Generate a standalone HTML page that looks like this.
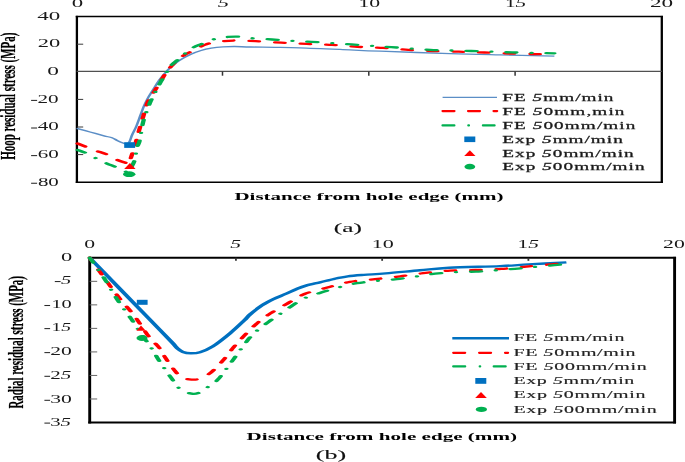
<!DOCTYPE html><html><head><meta charset="utf-8"><style>html,body{margin:0;padding:0;background:#fff;}svg{display:block;filter:blur(0.35px);}text{font-family:"Liberation Serif",serif;}</style></head><body>
<svg width="685" height="462" viewBox="0 0 685 462">
<rect width="685" height="462" fill="#fff"/>
<g fill="none" stroke="#000">
<path d="M75.75,16.60 H662.95" stroke-width="1.5"/>
<path d="M75.75,182.20 H662.95" stroke-width="1.5"/>
<path d="M76.90,15.85 V182.95" stroke-width="2.3"/>
<path d="M661.80,15.90 V182.90" stroke-width="2.3"/>
</g>
<path d="M76.60,71.35 H661.80" stroke="#505050" stroke-width="1.1" fill="none"/>
<path d="M222.50,71.45 V75.70" stroke="#333" stroke-width="1.5" fill="none"/>
<path d="M368.80,71.45 V75.70" stroke="#333" stroke-width="1.5" fill="none"/>
<path d="M515.10,71.45 V75.70" stroke="#333" stroke-width="1.5" fill="none"/>
<path d="M77.00,44.20 H83.20" stroke="#3a3a3a" stroke-width="1" fill="none"/>
<path d="M77.00,99.40 H83.20" stroke="#3a3a3a" stroke-width="1" fill="none"/>
<path d="M77.00,127.00 H83.20" stroke="#3a3a3a" stroke-width="1" fill="none"/>
<path d="M77.00,154.60 H83.20" stroke="#3a3a3a" stroke-width="1" fill="none"/>
<g fill="none" stroke="#000">
<path d="M88.25,257.80 H676.05" stroke-width="1.9"/>
<path d="M88.25,422.50 H676.05" stroke-width="1.9"/>
<path d="M89.70,256.85 V423.45" stroke-width="2.9"/>
<path d="M674.60,256.85 V423.45" stroke-width="2.9"/>
</g>
<path d="M235.93,257.80 V260.80" stroke="#333" stroke-width="1.8" fill="none"/>
<path d="M382.15,257.80 V260.80" stroke="#333" stroke-width="1.8" fill="none"/>
<path d="M528.38,257.80 V260.80" stroke="#333" stroke-width="1.8" fill="none"/>
<path d="M89.70,281.33 H97.20" stroke="#666" stroke-width="1" fill="none"/>
<path d="M89.70,304.86 H97.20" stroke="#666" stroke-width="1" fill="none"/>
<path d="M89.70,328.39 H97.20" stroke="#666" stroke-width="1" fill="none"/>
<path d="M89.70,351.91 H97.20" stroke="#666" stroke-width="1" fill="none"/>
<path d="M89.70,375.44 H97.20" stroke="#666" stroke-width="1" fill="none"/>
<path d="M89.70,398.97 H97.20" stroke="#666" stroke-width="1" fill="none"/>
<g transform="scale(1.9200,1)" fill="none">
<path d="M39.90,128.30 C41.06,128.92 44.50,130.75 46.88,132.00 C49.25,133.25 52.26,134.83 54.17,135.80 C56.08,136.77 57.20,137.03 58.33,137.80 C59.47,138.57 59.97,139.50 60.99,140.40 C62.01,141.30 63.54,142.53 64.43,143.20 C65.31,143.87 65.79,144.68 66.30,144.40 C66.81,144.12 67.07,143.15 67.50,141.50 C67.93,139.85 68.32,137.02 68.91,134.50 C69.49,131.98 70.30,129.48 70.99,126.40 C71.68,123.32 72.39,119.25 73.02,116.00 C73.65,112.75 74.18,109.72 74.79,106.90 C75.41,104.08 75.92,101.87 76.72,99.10 C77.52,96.33 78.57,93.40 79.58,90.30 C80.60,87.20 81.60,83.72 82.81,80.50 C84.03,77.28 85.76,73.38 86.88,71.00 C87.99,68.62 88.45,67.93 89.53,66.20 C90.61,64.47 91.68,62.58 93.33,60.60 C94.98,58.62 97.53,55.98 99.43,54.30 C101.33,52.62 102.97,51.52 104.74,50.50 C106.51,49.48 108.15,48.80 110.05,48.20 C111.95,47.60 114.11,47.18 116.15,46.90 C118.18,46.62 119.90,46.48 122.24,46.50 C124.58,46.52 126.71,46.87 130.21,47.00 C133.71,47.13 138.89,47.17 143.23,47.30 C147.57,47.43 150.61,47.45 156.25,47.80 C161.89,48.15 170.14,48.83 177.08,49.40 C184.03,49.97 188.37,50.50 197.92,51.20 C207.47,51.90 223.96,52.98 234.38,53.60 C244.79,54.22 251.35,54.48 260.42,54.90 C269.48,55.32 284.03,55.90 288.75,56.10" stroke="#5b8ec6" stroke-width="1.35" stroke-linejoin="round"/>
<path d="M40.42,143.50 C41.17,144.07 43.39,145.72 44.95,146.90 C46.51,148.08 48.01,149.35 49.79,150.60 C51.57,151.85 53.88,152.95 55.62,154.40 C57.37,155.85 58.59,157.87 60.26,159.30 C61.93,160.73 64.51,162.25 65.62,163.00 C66.74,163.75 66.50,164.97 66.98,163.80 C67.46,162.63 67.94,158.97 68.49,156.00 C69.04,153.03 69.74,149.33 70.26,146.00 C70.78,142.67 71.22,138.83 71.61,136.00 C72.01,133.17 72.14,132.33 72.66,129.00 C73.17,125.67 73.96,120.55 74.69,116.00 C75.42,111.45 76.08,105.82 77.03,101.70 C77.99,97.58 79.32,94.67 80.42,91.30 C81.51,87.93 82.50,84.85 83.59,81.50 C84.69,78.15 85.98,73.87 86.98,71.20 C87.98,68.53 88.72,67.28 89.58,65.50 C90.45,63.72 91.18,62.17 92.19,60.50 C93.19,58.83 94.30,57.10 95.62,55.50 C96.95,53.90 98.70,52.35 100.16,50.90 C101.61,49.45 103.17,47.88 104.38,46.80 C105.58,45.72 106.39,45.07 107.40,44.40 C108.40,43.73 108.96,43.33 110.42,42.80 C111.88,42.27 114.06,41.58 116.15,41.20 C118.23,40.82 120.08,40.50 122.92,40.50 C125.76,40.50 129.25,40.83 133.18,41.20 C137.10,41.57 142.03,42.25 146.46,42.70 C150.89,43.15 155.32,43.53 159.74,43.90 C164.16,44.27 168.56,44.42 172.97,44.90 C177.38,45.38 181.78,46.30 186.20,46.80 C190.62,47.30 195.07,47.40 199.48,47.90 C203.89,48.40 208.31,49.28 212.66,49.80 C217.01,50.32 221.19,50.68 225.57,51.00 C229.96,51.32 234.50,51.45 238.96,51.70 C243.42,51.95 247.86,52.20 252.34,52.50 C256.83,52.80 261.41,53.23 265.89,53.50 C270.36,53.77 275.36,53.95 279.17,54.10 C282.98,54.25 287.15,54.35 288.75,54.40" stroke="#ff0000" stroke-width="2.3" stroke-dasharray="5 8.34" stroke-dashoffset="0.05" stroke-linecap="round"/>
<path d="M40.42,149.90 C41.13,150.42 43.12,151.63 44.69,153.00 C46.25,154.37 48.09,156.47 49.79,158.10 C51.49,159.73 53.15,161.32 54.90,162.80 C56.64,164.28 58.82,165.83 60.26,167.00 C61.70,168.17 62.43,168.92 63.54,169.80 C64.65,170.68 66.10,172.77 66.93,172.30 C67.75,171.83 67.98,168.90 68.49,167.00 C69.00,165.10 69.63,163.08 70.00,160.90 C70.37,158.72 70.49,156.23 70.73,153.90 C70.97,151.57 71.13,149.08 71.46,146.90 C71.79,144.72 72.23,144.65 72.71,140.80 C73.19,136.95 73.77,128.43 74.32,123.80 C74.88,119.17 75.42,116.47 76.04,113.00 C76.67,109.53 77.29,106.40 78.07,103.00 C78.85,99.60 79.77,96.18 80.73,92.60 C81.69,89.02 82.77,85.10 83.85,81.50 C84.94,77.90 86.47,73.50 87.24,71.00 C88.01,68.50 87.60,68.35 88.49,66.50 C89.38,64.65 91.28,61.98 92.55,59.90 C93.82,57.82 94.89,55.92 96.09,54.00 C97.30,52.08 98.29,50.08 99.79,48.40 C101.29,46.72 103.26,45.37 105.10,43.90 C106.94,42.43 108.86,40.70 110.83,39.60 C112.80,38.50 114.74,37.78 116.93,37.30 C119.11,36.82 121.60,36.55 123.96,36.70 C126.32,36.85 128.14,37.73 131.09,38.20 C134.05,38.67 138.19,39.05 141.67,39.50 C145.15,39.95 148.53,40.50 151.98,40.90 C155.43,41.30 158.90,41.55 162.34,41.90 C165.79,42.25 169.18,42.58 172.66,43.00 C176.13,43.42 179.73,43.93 183.18,44.40 C186.62,44.87 189.90,45.35 193.33,45.80 C196.77,46.25 198.67,46.43 203.80,47.10 C208.93,47.77 217.17,49.15 224.11,49.80 C231.06,50.45 238.38,50.57 245.47,51.00 C252.56,51.43 259.45,52.02 266.67,52.40 C273.88,52.78 285.07,53.15 288.75,53.30" stroke="#00b050" stroke-width="2.3" stroke-dasharray="5.35 7.75 0.01 7.75" stroke-dashoffset="0.66" stroke-linecap="round"/>
</g>
<rect x="124.2" y="142.2" width="10.9" height="5.7" fill="#0070c0"/>
<path d="M129.9,162.9 L135.6,168.9 L124.2,168.9 Z" fill="#ff0000"/>
<ellipse cx="129.2" cy="174.2" rx="6.2" ry="2.9" fill="#00b050"/>
<g transform="scale(1.9200,1)" fill="none">
<path d="M46.72,257.80 C49.32,262.93 57.80,279.65 62.34,288.60 C66.88,297.55 70.46,304.60 73.96,311.50 C77.46,318.40 80.69,324.77 83.33,330.00 C85.98,335.23 88.31,339.80 89.84,342.90 C91.38,346.00 91.65,347.10 92.55,348.60 C93.45,350.10 94.14,351.12 95.26,351.90 C96.38,352.68 97.79,353.25 99.27,353.30 C100.76,353.35 102.26,353.33 104.17,352.20 C106.08,351.07 108.12,349.65 110.73,346.50 C113.33,343.35 117.06,337.63 119.79,333.30 C122.53,328.97 125.40,323.63 127.14,320.50 C128.87,317.37 128.68,316.98 130.21,314.50 C131.74,312.02 134.27,308.15 136.30,305.60 C138.33,303.05 140.37,301.10 142.40,299.20 C144.42,297.30 146.41,295.90 148.44,294.20 C150.46,292.50 152.71,290.43 154.53,289.00 C156.35,287.57 157.35,286.72 159.38,285.60 C161.40,284.48 164.18,283.43 166.67,282.30 C169.15,281.17 171.87,279.78 174.27,278.80 C176.68,277.82 178.56,277.05 181.09,276.40 C183.63,275.75 186.18,275.40 189.48,274.90 C192.78,274.40 196.01,274.17 200.89,273.40 C205.76,272.63 213.24,271.23 218.75,270.30 C224.26,269.37 227.01,268.50 233.96,267.80 C240.90,267.10 253.53,266.67 260.42,266.10 C267.30,265.53 269.50,265.02 275.26,264.40 C281.02,263.78 291.71,262.73 295.00,262.40" stroke="#0070c0" stroke-width="2.4" stroke-linejoin="round"/>
<path d="M46.72,257.80 C49.05,263.92 56.86,284.97 60.68,294.50 C64.50,304.03 66.81,307.95 69.64,315.00 C72.46,322.05 75.43,331.45 77.60,336.80 C79.77,342.15 81.24,343.62 82.66,347.10 C84.07,350.58 84.69,353.75 86.09,357.70 C87.50,361.65 89.64,367.50 91.09,370.80 C92.54,374.10 93.35,376.03 94.79,377.50 C96.23,378.97 98.18,379.42 99.74,379.60 C101.30,379.78 102.49,379.77 104.17,378.60 C105.84,377.43 107.79,375.65 109.79,372.60 C111.80,369.55 114.22,364.53 116.20,360.30 C118.18,356.07 119.84,351.28 121.67,347.20 C123.49,343.12 125.16,339.70 127.14,335.80 C129.11,331.90 131.26,327.53 133.54,323.80 C135.82,320.07 138.15,316.77 140.83,313.40 C143.52,310.03 146.68,306.83 149.64,303.60 C152.60,300.37 155.12,296.67 158.59,294.00 C162.07,291.33 166.52,289.63 170.47,287.60 C174.42,285.57 178.14,283.22 182.29,281.80 C186.44,280.38 191.00,280.02 195.36,279.10 C199.73,278.18 204.11,277.33 208.49,276.30 C212.86,275.27 217.29,273.85 221.61,272.90 C225.94,271.95 230.09,271.08 234.43,270.60 C238.77,270.12 243.22,270.28 247.66,270.00 C252.09,269.72 256.63,269.47 261.04,268.90 C265.45,268.33 269.73,267.37 274.11,266.60 C278.50,265.83 284.33,264.83 287.34,264.30 C290.36,263.77 291.38,263.55 292.19,263.40" stroke="#ff0000" stroke-width="2.3" stroke-dasharray="5 8.3" stroke-dashoffset="0.6" stroke-linecap="round"/>
<path d="M46.72,257.80 C47.96,261.17 51.73,270.90 54.17,278.00 C56.61,285.10 58.98,293.53 61.35,300.40 C63.73,307.27 66.42,313.68 68.44,319.20 C70.45,324.72 71.68,328.63 73.44,333.50 C75.19,338.37 77.31,343.65 78.96,348.40 C80.61,353.15 81.69,357.25 83.33,362.00 C84.97,366.75 87.07,372.40 88.80,376.90 C90.54,381.40 91.93,386.22 93.75,389.00 C95.57,391.78 98.00,393.02 99.74,393.60 C101.48,394.18 102.80,393.53 104.17,392.50 C105.54,391.47 106.42,389.55 107.97,387.40 C109.51,385.25 111.23,384.12 113.44,379.60 C115.64,375.08 118.61,366.85 121.20,360.30 C123.78,353.75 126.90,345.15 128.96,340.30 C131.02,335.45 131.72,334.28 133.54,331.20 C135.36,328.12 137.92,324.58 139.90,321.80 C141.88,319.02 143.44,317.10 145.42,314.50 C147.40,311.90 149.59,308.90 151.77,306.20 C153.95,303.50 155.90,300.58 158.49,298.30 C161.08,296.02 164.35,294.30 167.29,292.50 C170.23,290.70 173.05,289.05 176.15,287.50 C179.24,285.95 182.59,284.28 185.89,283.20 C189.18,282.12 192.48,281.67 195.94,281.00 C199.39,280.33 203.19,279.93 206.61,279.20 C210.03,278.47 213.12,277.52 216.46,276.60 C219.80,275.68 223.25,274.45 226.67,273.70 C230.09,272.95 233.45,272.45 236.98,272.10 C240.51,271.75 244.42,271.88 247.86,271.60 C251.31,271.32 254.28,270.87 257.66,270.40 C261.03,269.93 264.68,269.37 268.12,268.80 C271.57,268.23 274.90,267.60 278.33,267.00 C281.76,266.40 286.35,265.60 288.70,265.20 C291.05,264.80 291.82,264.70 292.45,264.60" stroke="#00b050" stroke-width="2.3" stroke-dasharray="5.3 7.74 0.01 7.75" stroke-linecap="round"/>
</g>
<rect x="136.8" y="299.8" width="10.8" height="5" fill="#0070c0"/>
<path d="M141,325.6 L145.8,330.8 L136.4,330.8 Z" fill="#ff0000"/>
<ellipse cx="142" cy="338" rx="5.5" ry="3" fill="#00b050"/>
<path d="M442.6,97.4 H497.0" stroke="#5b8ec6" stroke-width="1.3"/>
<path d="M442.55,111.1 H497.15" stroke="#ff0000" stroke-width="2.3" stroke-dasharray="11.9 13.6" stroke-linecap="round"/>
<path d="M442.55,125.4 H494.55" stroke="#00b050" stroke-width="2.3" stroke-dasharray="11.8 14 0.6 14" stroke-linecap="round"/>
<rect x="464.3" y="136.5" width="11.0" height="5.6" fill="#0070c0"/>
<path d="M469.85,150.3 L475.5,156 L464.2,156 Z" fill="#ff0000"/>
<ellipse cx="469.85" cy="166.7" rx="5.4" ry="2.85" fill="#00b050"/>
<text transform="translate(502.24,100.80) scale(1.850,1)" x="0" y="0" font-size="10.40" textLength="60.13" lengthAdjust="spacing" fill="#1a1a1a" stroke="#1a1a1a" stroke-width="0.25">FE <tspan font-style="italic">5</tspan>mm/min</text>
<text transform="translate(502.24,114.50) scale(1.850,1)" x="0" y="0" font-size="10.40" textLength="66.08" lengthAdjust="spacing" fill="#1a1a1a" stroke="#1a1a1a" stroke-width="0.25">FE <tspan font-style="italic">5</tspan>0mm,min</text>
<text transform="translate(502.24,128.50) scale(1.850,1)" x="0" y="0" font-size="10.40" textLength="71.97" lengthAdjust="spacing" fill="#1a1a1a" stroke="#1a1a1a" stroke-width="0.25">FE <tspan font-style="italic">5</tspan>00mm/min</text>
<text transform="translate(502.24,142.50) scale(1.850,1)" x="0" y="0" font-size="10.40" textLength="65.16" lengthAdjust="spacing" fill="#1a1a1a" stroke="#1a1a1a" stroke-width="0.25">Exp <tspan font-style="italic">5</tspan>mm/min</text>
<text transform="translate(502.24,156.50) scale(1.850,1)" x="0" y="0" font-size="10.40" textLength="71.05" lengthAdjust="spacing" fill="#1a1a1a" stroke="#1a1a1a" stroke-width="0.25">Exp <tspan font-style="italic">5</tspan>0mm/min</text>
<text transform="translate(502.24,170.30) scale(1.850,1)" x="0" y="0" font-size="10.40" textLength="76.94" lengthAdjust="spacing" fill="#1a1a1a" stroke="#1a1a1a" stroke-width="0.25">Exp <tspan font-style="italic">5</tspan>00mm/min</text>
<path d="M452.3,338.3 H509.0" stroke="#0070c0" stroke-width="2.4"/>
<path d="M453.25,352.8 H508.05" stroke="#ff0000" stroke-width="2.3" stroke-dasharray="11.9 14" stroke-linecap="round"/>
<path d="M453.25,366.4 H506.05" stroke="#00b050" stroke-width="2.3" stroke-dasharray="11.9 14.6 0.4 13.6" stroke-linecap="round"/>
<rect x="475.3" y="378.0" width="11.0" height="5.8" fill="#0070c0"/>
<path d="M481,391.9 L486.8,398.1 L475.2,398.1 Z" fill="#ff0000"/>
<ellipse cx="481.4" cy="409.4" rx="5.6" ry="2.7" fill="#00b050"/>
<text transform="translate(513.42,341.10) scale(1.920,1)" x="0" y="0" font-size="10.40" textLength="57.80" lengthAdjust="spacing" fill="#222" stroke="#222" stroke-width="0.15">FE <tspan font-style="italic">5</tspan>mm/min</text>
<text transform="translate(513.42,355.50) scale(1.920,1)" x="0" y="0" font-size="10.40" textLength="63.64" lengthAdjust="spacing" fill="#222" stroke="#222" stroke-width="0.15">FE <tspan font-style="italic">5</tspan>0mm/min</text>
<text transform="translate(513.42,369.80) scale(1.920,1)" x="0" y="0" font-size="10.40" textLength="69.37" lengthAdjust="spacing" fill="#222" stroke="#222" stroke-width="0.15">FE <tspan font-style="italic">5</tspan>00mm/min</text>
<text transform="translate(513.42,384.30) scale(1.920,1)" x="0" y="0" font-size="10.40" textLength="62.96" lengthAdjust="spacing" fill="#222" stroke="#222" stroke-width="0.15">Exp <tspan font-style="italic">5</tspan>mm/min</text>
<text transform="translate(513.42,398.40) scale(1.920,1)" x="0" y="0" font-size="10.40" textLength="68.79" lengthAdjust="spacing" fill="#222" stroke="#222" stroke-width="0.15">Exp <tspan font-style="italic">5</tspan>0mm/min</text>
<text transform="translate(513.42,412.60) scale(1.920,1)" x="0" y="0" font-size="10.40" textLength="74.62" lengthAdjust="spacing" fill="#222" stroke="#222" stroke-width="0.15">Exp <tspan font-style="italic">5</tspan>00mm/min</text>
<text x="71.83" y="6.60" font-size="11.80" textLength="11.44" lengthAdjust="spacingAndGlyphs" text-anchor="start" fill="#1a1a1a">0</text>
<text x="217.79" y="6.60" font-size="11.80" textLength="11.29" lengthAdjust="spacingAndGlyphs" text-anchor="start" fill="#1a1a1a"><tspan font-style="italic">5</tspan></text>
<text x="358.49" y="6.60" font-size="11.80" textLength="21.74" lengthAdjust="spacingAndGlyphs" text-anchor="start" fill="#1a1a1a">10</text>
<text x="504.92" y="6.60" font-size="11.80" textLength="21.42" lengthAdjust="spacingAndGlyphs" text-anchor="start" fill="#1a1a1a">1<tspan font-style="italic">5</tspan></text>
<text x="649.98" y="6.60" font-size="11.80" textLength="23.20" lengthAdjust="spacingAndGlyphs" text-anchor="start" fill="#1a1a1a">20</text>
<text x="37.24" y="19.65" font-size="11.80" textLength="22.93" lengthAdjust="spacingAndGlyphs" text-anchor="start" fill="#1a1a1a">40</text>
<text x="37.71" y="47.15" font-size="11.80" textLength="22.44" lengthAdjust="spacingAndGlyphs" text-anchor="start" fill="#1a1a1a">20</text>
<text x="47.21" y="74.85" font-size="11.80" textLength="11.67" lengthAdjust="spacingAndGlyphs" text-anchor="start" fill="#1a1a1a">0</text>
<text x="37.47" y="102.65" font-size="11.80" textLength="21.13" lengthAdjust="spacingAndGlyphs" text-anchor="start" fill="#1a1a1a">20</text>
<rect x="31.10" y="99.88" width="6.00" height="1.05" fill="#2a2a2a"/>
<text x="37.78" y="130.35" font-size="11.80" textLength="21.02" lengthAdjust="spacingAndGlyphs" text-anchor="start" fill="#1a1a1a">40</text>
<rect x="31.10" y="127.48" width="6.00" height="1.05" fill="#2a2a2a"/>
<text x="37.80" y="157.85" font-size="11.80" textLength="21.00" lengthAdjust="spacingAndGlyphs" text-anchor="start" fill="#1a1a1a">60</text>
<rect x="31.10" y="155.08" width="6.00" height="1.05" fill="#2a2a2a"/>
<text x="37.91" y="185.65" font-size="11.80" textLength="20.89" lengthAdjust="spacingAndGlyphs" text-anchor="start" fill="#1a1a1a">80</text>
<rect x="31.10" y="182.73" width="6.00" height="1.05" fill="#2a2a2a"/>
<text x="84.38" y="247.50" font-size="11.80" textLength="10.85" lengthAdjust="spacingAndGlyphs" text-anchor="start" fill="#1a1a1a">0</text>
<text x="230.25" y="247.50" font-size="11.80" textLength="10.79" lengthAdjust="spacingAndGlyphs" text-anchor="start" fill="#1a1a1a"><tspan font-style="italic">5</tspan></text>
<text x="371.66" y="247.50" font-size="11.80" textLength="22.08" lengthAdjust="spacingAndGlyphs" text-anchor="start" fill="#1a1a1a">10</text>
<text x="517.52" y="247.50" font-size="11.80" textLength="21.42" lengthAdjust="spacingAndGlyphs" text-anchor="start" fill="#1a1a1a">1<tspan font-style="italic">5</tspan></text>
<text x="663.05" y="247.50" font-size="11.80" textLength="21.68" lengthAdjust="spacingAndGlyphs" text-anchor="start" fill="#1a1a1a">20</text>
<text x="60.95" y="260.90" font-size="11.80" textLength="11.20" lengthAdjust="spacingAndGlyphs" text-anchor="start" fill="#1a1a1a">0</text>
<text x="61.12" y="284.25" font-size="11.80" textLength="10.17" lengthAdjust="spacingAndGlyphs" text-anchor="start" fill="#1a1a1a"><tspan font-style="italic">5</tspan></text>
<rect x="54.80" y="281.03" width="5.80" height="1.05" fill="#2a2a2a"/>
<text x="51.41" y="308.10" font-size="11.80" textLength="20.37" lengthAdjust="spacingAndGlyphs" text-anchor="start" fill="#1a1a1a">10</text>
<rect x="44.40" y="304.98" width="5.70" height="1.05" fill="#2a2a2a"/>
<text x="51.48" y="331.20" font-size="11.80" textLength="19.59" lengthAdjust="spacingAndGlyphs" text-anchor="start" fill="#1a1a1a">1<tspan font-style="italic">5</tspan></text>
<rect x="44.40" y="328.08" width="5.70" height="1.05" fill="#2a2a2a"/>
<text x="50.25" y="355.20" font-size="11.80" textLength="21.57" lengthAdjust="spacingAndGlyphs" text-anchor="start" fill="#1a1a1a">20</text>
<rect x="44.40" y="352.08" width="5.70" height="1.05" fill="#2a2a2a"/>
<text x="50.27" y="378.90" font-size="11.80" textLength="21.05" lengthAdjust="spacingAndGlyphs" text-anchor="start" fill="#1a1a1a">2<tspan font-style="italic">5</tspan></text>
<rect x="44.40" y="375.78" width="5.70" height="1.05" fill="#2a2a2a"/>
<text x="50.16" y="402.90" font-size="11.80" textLength="21.66" lengthAdjust="spacingAndGlyphs" text-anchor="start" fill="#1a1a1a">30</text>
<rect x="44.40" y="399.78" width="5.70" height="1.05" fill="#2a2a2a"/>
<text x="50.20" y="425.70" font-size="11.80" textLength="20.81" lengthAdjust="spacingAndGlyphs" text-anchor="start" fill="#1a1a1a">3<tspan font-style="italic">5</tspan></text>
<rect x="44.40" y="422.58" width="5.70" height="1.05" fill="#2a2a2a"/>
<text x="234.40" y="200.00" font-size="10.80" textLength="269.00" lengthAdjust="spacingAndGlyphs" font-weight="bold" text-anchor="start" fill="#000">Distance from hole edge (mm)</text>
<text x="246.60" y="440.00" font-size="10.80" textLength="270.50" lengthAdjust="spacingAndGlyphs" font-weight="bold" text-anchor="start" fill="#000">Distance from hole edge (mm)</text>
<text x="333.89" y="232.00" font-size="13.00" textLength="28.02" lengthAdjust="spacingAndGlyphs" text-anchor="start" fill="#111" stroke="#111" stroke-width="0.12">(a)</text>
<text x="315.85" y="459.30" font-size="13.00" textLength="30.39" lengthAdjust="spacingAndGlyphs" text-anchor="start" fill="#111" stroke="#111" stroke-width="0.12">(b)</text>
<text transform="translate(14.50,159.80) rotate(-90) scale(1,1.900)" x="0" y="0" font-size="10.96" textLength="127.20" lengthAdjust="spacingAndGlyphs" stroke="#000" stroke-width="0.12" font-weight="bold">Hoop residual stress (MPa)</text>
<text transform="translate(22.90,408.60) rotate(-90) scale(1,1.900)" x="0" y="0" font-size="10.96" textLength="132.60" lengthAdjust="spacingAndGlyphs" stroke="#000" stroke-width="0.12" font-weight="bold">Radial residual stress (MPa)</text>
</svg></body></html>
